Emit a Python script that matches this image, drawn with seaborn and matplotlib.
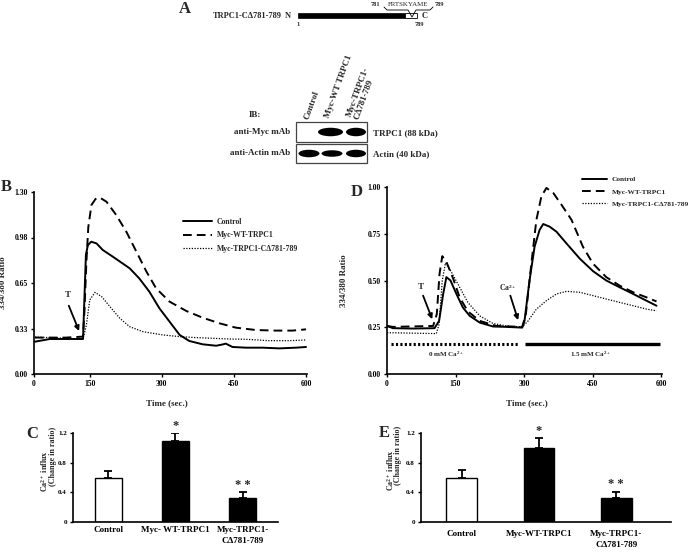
import numpy as np
import pandas as pd
import matplotlib
matplotlib.use("Agg")
import matplotlib.pyplot as plt
import seaborn as sns
from matplotlib.patches import Rectangle, Ellipse

# ---------------- data ----------------
series_names = ["Control", "Myc-WT-TRPC1", "Myc-TRPC1-C\u0394781-789"]

# Panel B (time in s, 334/380 ratio)
b_ctrl_t = [36, 67, 100, 136, 139, 142, 146, 153, 164, 177, 198, 233, 253, 274, 295, 316, 337, 357, 385, 413, 425, 433, 447, 475, 510, 544, 579, 600]
b_ctrl_v = [0.231, 0.25, 0.25, 0.25, 0.55, 0.85, 0.92, 0.945, 0.933, 0.886, 0.838, 0.755, 0.683, 0.588, 0.469, 0.374, 0.279, 0.236, 0.212, 0.202, 0.21, 0.217, 0.193, 0.188, 0.188, 0.183, 0.188, 0.193]
b_wt_t = [36, 100, 136, 139, 143, 147, 153.5, 162, 171, 185, 205, 226, 247, 268, 288, 316, 351, 385, 420, 454, 496, 537, 572, 600]
b_wt_v = [0.26, 0.26, 0.267, 0.45, 0.8, 1.05, 1.207, 1.25, 1.26, 1.23, 1.136, 1.017, 0.874, 0.731, 0.612, 0.517, 0.45, 0.402, 0.362, 0.331, 0.314, 0.31, 0.31, 0.319]
b_mut_t = [36, 100, 136, 143, 150, 161, 175, 192, 212.5, 233, 261, 302, 337, 371, 406, 440, 475, 523, 565, 600]
b_mut_v = [0.264, 0.255, 0.25, 0.35, 0.529, 0.583, 0.552, 0.481, 0.398, 0.338, 0.302, 0.279, 0.267, 0.26, 0.255, 0.25, 0.248, 0.238, 0.238, 0.243]
b_yticks = [0, 0.325, 0.65, 0.975, 1.30]
b_yticklabels = ["0.00", "0.33", "0.65", "0.98", "1.30"]
b_xticks = [34, 150, 300, 450, 600]
b_xticklabels = ["0", "150", "300", "450", "600"]

# Panel D
d_ctrl_t = [0, 13, 57, 104, 114, 123, 130, 139, 152, 166, 181, 203, 232, 261, 296, 301, 312, 323, 334, 342, 356, 371, 393, 422, 451, 480, 509, 539, 568, 590]
d_ctrl_v = [0.257, 0.245, 0.243, 0.245, 0.284, 0.428, 0.518, 0.5, 0.428, 0.356, 0.311, 0.275, 0.254, 0.252, 0.248, 0.284, 0.5, 0.68, 0.77, 0.802, 0.788, 0.761, 0.698, 0.617, 0.55, 0.5, 0.464, 0.428, 0.392, 0.365]
d_wt_t = [0, 13, 101, 109, 115, 121, 130, 145, 159, 177, 203, 239, 296, 304, 316, 327, 338, 349, 364, 382, 404, 429, 451, 480, 509, 539, 568, 590]
d_wt_v = [0.257, 0.252, 0.257, 0.32, 0.536, 0.63, 0.6, 0.509, 0.41, 0.335, 0.284, 0.257, 0.252, 0.32, 0.59, 0.824, 0.95, 0.995, 0.968, 0.905, 0.824, 0.68, 0.59, 0.518, 0.473, 0.437, 0.41, 0.388]
d_mut_t = [0, 108, 114, 121, 128, 141, 159, 177, 203, 232, 269, 296, 309, 327, 349, 371, 393, 422, 451, 480, 509, 539, 568, 590]
d_mut_v = [0.221, 0.216, 0.266, 0.5, 0.594, 0.545, 0.464, 0.383, 0.311, 0.27, 0.254, 0.252, 0.284, 0.347, 0.392, 0.428, 0.442, 0.437, 0.419, 0.401, 0.383, 0.365, 0.347, 0.338]
d_yticks = [0, 0.25, 0.5, 0.75, 1.0]
d_yticklabels = ["0.00", "0.25", "0.50", "0.75", "1.00"]
d_xticks = [0, 150, 300, 450, 600]
d_bath = [("0 mM Ca$^{2+}$", 9.5, 290, "dot"), ("1.5 mM Ca$^{2+}$", 301, 597, "solid")]
d_bath_level = 0.158

# Panels C and E (bars)
bar_cats = ["Control", "WT", "Mut"]
c_labels = ["Control", "Myc- WT-TRPC1", "Myc-TRPC1-\nC\u0394781-789"]
c_vals = [0.59, 1.09, 0.32]
c_errs = [0.10, 0.11, 0.08]
c_stars = ["", "*", "* *"]
e_labels = ["Control", "Myc-WT-TRPC1", "Myc-TRPC1-\nC\u0394781-789"]
e_vals = [0.60, 1.00, 0.33]
e_errs = [0.10, 0.13, 0.08]
e_stars = ["", "*", "* *"]
bar_yticks = [0, 0.4, 0.8, 1.2]
bar_yticklabels = ["0", "0.4", "0.8", "1.2"]

# ---------------- style ----------------
sns.set_style("ticks")
plt.rcParams["font.family"] = ["Liberation Serif", "DejaVu Serif"]
plt.rcParams["font.weight"] = "bold"
plt.rcParams["axes.labelweight"] = "bold"
plt.rcParams["mathtext.fontset"] = "custom"
plt.rcParams["mathtext.rm"] = "Liberation Serif:bold"
plt.rcParams["mathtext.bf"] = "Liberation Serif:bold"
plt.rcParams["mathtext.it"] = "Liberation Serif:italic:bold"
plt.rcParams["mathtext.default"] = "rm"
plt.rcParams["axes.edgecolor"] = "black"

W, H = 688, 552
fig = plt.figure(figsize=(W / 100, H / 100), dpi=100)


def ax_px(l, t, r, b):
    return fig.add_axes([l / W, 1 - b / H, (r - l) / W, (b - t) / H], facecolor="none")


axB = ax_px(34, 192, 307, 374)
axD = ax_px(387, 187, 662, 374)
axC = ax_px(73, 433, 278, 522)
axE = ax_px(421, 433, 671, 522)

line_styles = [dict(linestyle="-", lw=1.4),
               dict(linestyle=(0, (4.5, 2.6)), lw=1.4),
               dict(linestyle=(0, (1, 1.2)), lw=0.9)]


def style_axes(ax):
    for s in ["top", "right"]:
        ax.spines[s].set_visible(False)
    for s in ["left", "bottom"]:
        ax.spines[s].set_linewidth(1.2)
    ax.tick_params(axis="both", direction="out", length=2.5, width=1.0, labelsize=5.5, pad=2, colors="black")


def line_panel(ax, data):
    for (t, v), name, st in zip(data, series_names, line_styles):
        sns.lineplot(x=t, y=v, ax=ax, color="black", label=name, estimator=None, sort=False, **st)
    style_axes(ax)


line_panel(axB, [(b_ctrl_t, b_ctrl_v), (b_wt_t, b_wt_v), (b_mut_t, b_mut_v)])
axB.set_xlim(34, 602)
axB.set_ylim(0, 1.30)
axB.set_yticks(b_yticks, b_yticklabels)
axB.set_xticks(b_xticks, b_xticklabels)
axB.set_xlabel("Time (sec.)", fontsize=6.5)
axB.set_ylabel("334/380 Ratio", fontsize=6.5)
axB.xaxis.set_label_coords(0.487, -0.137)
axB.yaxis.set_label_coords(-0.10, 0.5)
axB.legend(loc="upper left", bbox_to_anchor=(183 / W, 1 - 218 / H), bbox_transform=fig.transFigure,
           frameon=False, prop={"size": 5.6, "weight": "bold"}, handlelength=3.7, handletextpad=0.6,
           labelspacing=0.7, borderpad=0, borderaxespad=0)
axB.text(104.4, 0.564, "T", ha="center", va="center", fontsize=6.5)
axB.annotate("", xy=(127.8, 0.307), xytext=(106.4, 0.488),
             arrowprops=dict(arrowstyle="-|>", color="black", lw=1.3, mutation_scale=7, shrinkA=0, shrinkB=0))

line_panel(axD, [(d_ctrl_t, d_ctrl_v), (d_wt_t, d_wt_v), (d_mut_t, d_mut_v)])
axD.set_xlim(0, 602)
axD.set_ylim(0, 1.0)
axD.set_yticks(d_yticks, d_yticklabels)
axD.set_xticks(d_xticks, [str(x) for x in d_xticks])
axD.set_xlabel("Time (sec.)", fontsize=6.5)
axD.set_ylabel("334/380 Ratio", fontsize=6.5)
axD.xaxis.set_label_coords(0.509, -0.134)
axD.yaxis.set_label_coords(-0.142, 0.5)
axD.legend(loc="upper left", bbox_to_anchor=(582 / W, 1 - 176 / H), bbox_transform=fig.transFigure,
           frameon=False, prop={"size": 5.3, "weight": "bold"}, handlelength=3.4, handletextpad=0.6,
           labelspacing=0.85, borderpad=0, borderaxespad=0)
axD.text(73.5, 0.467, "T", ha="center", va="center", fontsize=6.5)
axD.annotate("", xy=(99, 0.293), xytext=(79, 0.419),
             arrowprops=dict(arrowstyle="-|>", color="black", lw=1.3, mutation_scale=7, shrinkA=0, shrinkB=0))
axD.text(265, 0.462, "Ca$^{2+}$", ha="center", va="center", fontsize=5.5)
axD.annotate("", xy=(287, 0.288), xytext=(270, 0.419),
             arrowprops=dict(arrowstyle="-|>", color="black", lw=1.3, mutation_scale=7, shrinkA=0, shrinkB=0))
for label, x0, x1, kind in d_bath:
    if kind == "dot":
        axD.plot([x0, x1], [d_bath_level, d_bath_level], color="black", lw=2.2, linestyle=(0, (0.7, 0.75)))
    else:
        axD.plot([x0, x1], [d_bath_level, d_bath_level], color="black", lw=2.4, solid_capstyle="butt")
    axD.text((x0 + x1) / 2 - 20 if kind == "dot" else (x0 + x1) / 2 - 3, 0.104, label,
             ha="center", va="center", fontsize=5)


def bar_panel(ax, labels, vals, errs, stars, xlim, pad, lab_px):
    df = pd.DataFrame({"group": bar_cats, "value": vals})
    sns.barplot(data=df, x="group", y="value", hue="group", order=bar_cats, hue_order=bar_cats,
                palette=["white", "black", "black"], saturation=1, width=0.4, edgecolor="black",
                linewidth=1.0, legend=False, errorbar=None, ax=ax)
    ax.errorbar(np.arange(len(vals)), vals, yerr=[np.zeros(len(vals)), errs], fmt="none",
                ecolor="black", elinewidth=1.3, capsize=3, capthick=1.3)
    for i, (v, e, s) in enumerate(zip(vals, errs, stars)):
        if s:
            ax.text(i, v + e + 0.10, s, ha="center", va="center", fontsize=9, clip_on=False)
    style_axes(ax)
    ax.set_xlim(*xlim)
    ax.set_ylim(0, 1.2)
    ax.set_yticks(bar_yticks, bar_yticklabels)
    ax.set_xticks(range(len(labels)), labels)
    ax.tick_params(axis="x", length=0, labelsize=6.5, pad=pad)
    ax.tick_params(axis="y", labelsize=5)
    ax.set_xlabel("")
    ax.set_ylabel("")
    for lab in ax.get_xticklabels():
        lab.set_va("top")
        lab.set_linespacing(1.5)
    # two-line y label, each line placed like the reference
    (x1, y1), (x2, y2) = lab_px
    fig.text(x1 / W, 1 - y1 / H, "Ca$^{2+}$ influx", rotation=90, ha="center", va="center", fontsize=5.8)
    fig.text(x2 / W, 1 - y2 / H, "(Change in ratio)", rotation=90, ha="center", va="center", fontsize=5.8)


bar_panel(axC, c_labels, c_vals, c_errs, c_stars, (-0.52, 2.52), 3, ((45, 471), (53, 456)))
bar_panel(axE, e_labels, e_vals, e_errs, e_stars, (-0.53, 2.71), 6, ((390, 470), (398, 455)))

# ---------------- overlay: panel letters, schematic, blot ----------------
ov = fig.add_axes([0, 0, 1, 1], facecolor="none")
ov.set_xlim(0, W)
ov.set_ylim(H, 0)
ov.axis("off")

for letter, x, y in [("A", 185, 9), ("B", 6, 187), ("C", 32, 434), ("D", 357, 192), ("E", 384, 433)]:
    ov.text(x, y, letter, ha="center", va="center", fontsize=12)

# Panel A schematic
ov.text(282, 16, "TRPC1-C\u0394781-789", ha="right", va="center", fontsize=6)
ov.text(288, 16, "N", ha="center", va="center", fontsize=6)
ov.add_patch(Rectangle((298, 13.3), 107, 5, facecolor="black", edgecolor="black", lw=0.5))
ov.add_patch(Rectangle((405, 13.3), 12, 5, facecolor="white", edgecolor="black", lw=0.6))
ov.plot([384, 387, 408, 412, 416, 430, 433], [7, 10, 10, 17, 10, 10, 7], color="black", lw=0.6)
ov.text(425, 16, "C", ha="center", va="center", fontsize=6)
ov.text(298, 24, "1", ha="center", va="center", fontsize=4.5)
ov.text(419, 24, "789", ha="center", va="center", fontsize=4.5)
ov.text(375, 5, "781", ha="center", va="center", fontsize=4.5)
ov.text(408, 4.5, "FRTSKYAME", ha="center", va="center", fontsize=5, weight="normal")
ov.text(439, 5, "789", ha="center", va="center", fontsize=4.5)

# Western blot
ov.text(255, 115, "IB:", ha="center", va="center", fontsize=6.5)
ov.text(290, 132, "anti-Myc mAb", ha="right", va="center", fontsize=6.5)
ov.text(290, 153, "anti-Actin mAb", ha="right", va="center", fontsize=6.5)
ov.text(373, 133, "TRPC1 (88 kDa)", ha="left", va="center", fontsize=6.5)
ov.text(373, 154, "Actin (40 kDa)", ha="left", va="center", fontsize=6.5)
ov.add_patch(Rectangle((296, 122), 71, 20, facecolor="white", edgecolor="#444444", lw=0.9))
ov.add_patch(Rectangle((296, 144), 71, 19, facecolor="white", edgecolor="#444444", lw=0.9))
for cx, cy, w, h in [(330.5, 132, 25, 8.5), (356, 132, 20, 8.5),
                     (309, 153.5, 21, 7.5), (332, 153.5, 21, 6.5), (356, 153.5, 20, 7.5)]:
    ov.add_patch(Ellipse((cx, cy), w, h, facecolor="black", edgecolor="none"))
for txt, x, y in [("Control", 307, 119), ("Myc-WT TRPC1", 327, 118), ("Myc-TRPC1-\nC\u0394781-789", 353, 118)]:
    ov.text(x, y, txt, rotation=70, rotation_mode="anchor", ha="left", va="center", fontsize=6.5,
            linespacing=1.0)

fig.savefig("out.png", dpi=100)
